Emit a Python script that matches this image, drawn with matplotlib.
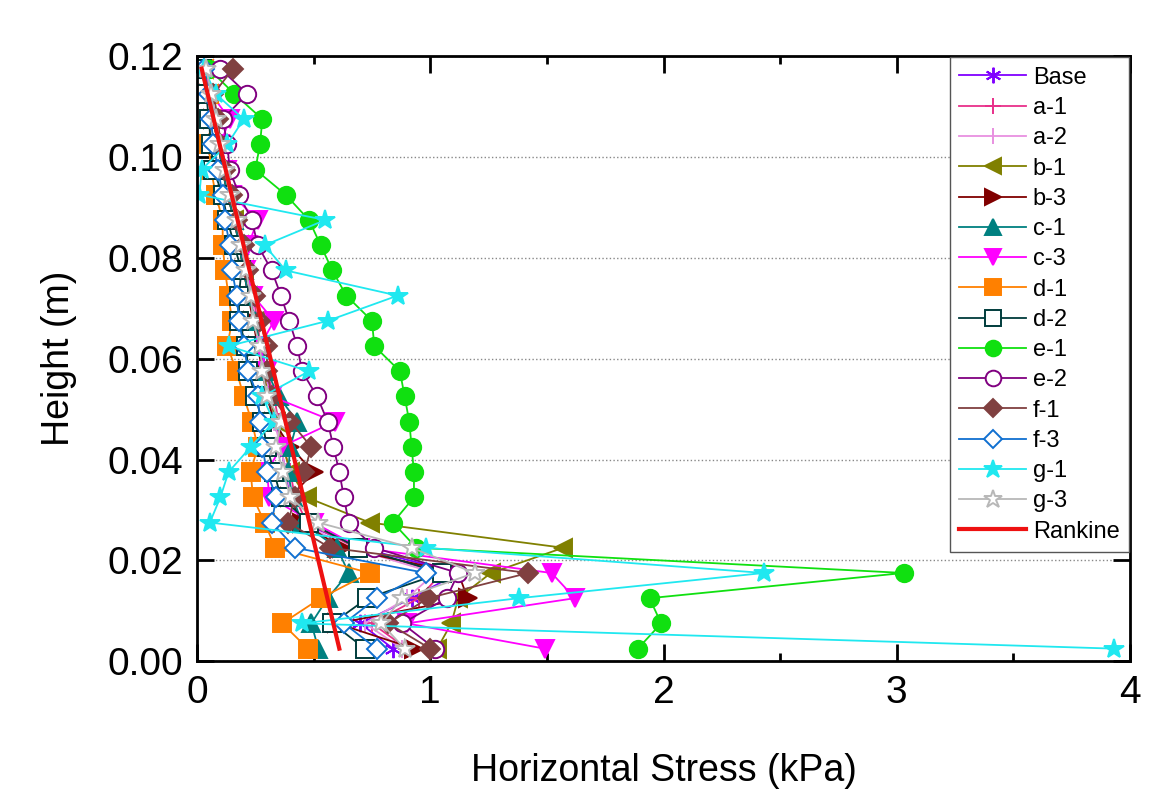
import matplotlib.pyplot as plt
import numpy as np
from matplotlib.ticker import MultipleLocator

plt.rcParams['font.family'] = ['Liberation Sans', 'DejaVu Sans']

# heights (m), bottom to top
height = [0.0025, 0.0075, 0.0125, 0.0175, 0.0225, 0.0275, 0.0325, 0.0375,
          0.0425, 0.0475, 0.0525, 0.0575, 0.0625, 0.0675, 0.0725, 0.0775,
          0.0825, 0.0875, 0.0925, 0.0975, 0.1025, 0.1075, 0.1125, 0.1175]

# horizontal stress (kPa) for each case
base = [0.84, 0.70, 0.92, 1.12, 0.70, 0.45, 0.40, 0.38, 0.36, 0.34, 0.31, 0.29,
        0.27, 0.25, 0.23, 0.21, 0.19, 0.17, 0.14, 0.12, 0.10, 0.08, 0.06, 0.03]
a1 = [0.90, 0.75, 0.95, 1.05, 0.68, 0.47, 0.42, 0.40, 0.37, 0.35, 0.33, 0.30,
      0.27, 0.26, 0.24, 0.21, 0.19, 0.17, 0.15, 0.12, 0.10, 0.08, 0.05, 0.03]
a2 = [0.88, 0.72, 0.90, 1.02, 0.66, 0.44, 0.41, 0.38, 0.36, 0.33, 0.31, 0.29,
      0.26, 0.25, 0.23, 0.20, 0.18, 0.16, 0.14, 0.11, 0.09, 0.07, 0.05, 0.02]
b1 = [1.03, 1.09, 1.12, 1.26, 1.57, 0.74, 0.47, 0.40, 0.37, 0.34, 0.31, 0.28,
      0.27, 0.25, 0.22, 0.20, 0.18, 0.16, 0.13, 0.11, 0.09, 0.07, 0.05, 0.03]
b3 = [0.93, 0.60, 1.16, 1.12, 0.62, 0.45, 0.40, 0.50, 0.40, 0.33, 0.30, 0.28,
      0.26, 0.24, 0.22, 0.20, 0.18, 0.16, 0.13, 0.11, 0.09, 0.07, 0.05, 0.03]
c1 = [0.52, 0.49, 0.56, 0.65, 0.60, 0.45, 0.41, 0.39, 0.40, 0.43, 0.35, 0.30,
      0.27, 0.25, 0.22, 0.20, 0.18, 0.16, 0.13, 0.11, 0.09, 0.07, 0.05, 0.02]
c3 = [1.49, 0.90, 1.62, 1.52, 0.70, 0.50, 0.31, 0.30, 0.36, 0.59, 0.32, 0.30,
      0.27, 0.33, 0.24, 0.21, 0.22, 0.26, 0.15, 0.13, 0.10, 0.14, 0.06, 0.03]
d1 = [0.475, 0.365, 0.53, 0.74, 0.335, 0.29, 0.24, 0.23, 0.26, 0.235, 0.20, 0.17,
      0.13, 0.15, 0.135, 0.12, 0.11, 0.11, 0.08, 0.06, 0.05, 0.06, 0.05, 0.03]
d2 = [0.72, 0.58, 0.73, 1.05, 0.69, 0.48, 0.36, 0.33, 0.30, 0.28, 0.25, 0.22,
      0.21, 0.18, 0.18, 0.19, 0.16, 0.13, 0.11, 0.07, 0.06, 0.05, 0.04, 0.02]
e1 = [1.89, 1.99, 1.94, 3.03, 0.94, 0.84, 0.93, 0.93, 0.92, 0.91, 0.89, 0.87,
      0.76, 0.75, 0.64, 0.58, 0.53, 0.48, 0.38, 0.25, 0.27, 0.28, 0.16, 0.05]
e2 = [1.02, 0.88, 1.07, 1.12, 0.76, 0.65, 0.63, 0.61, 0.585, 0.56, 0.515, 0.45,
      0.43, 0.395, 0.36, 0.32, 0.26, 0.235, 0.18, 0.14, 0.13, 0.11, 0.215, 0.10]
f1 = [1.00, 0.82, 0.99, 1.42, 0.57, 0.39, 0.42, 0.46, 0.49, 0.40, 0.32, 0.30,
      0.30, 0.27, 0.25, 0.22, 0.20, 0.17, 0.15, 0.12, 0.10, 0.09, 0.07, 0.155]
f3 = [0.77, 0.63, 0.77, 0.98, 0.42, 0.32, 0.34, 0.30, 0.28, 0.27, 0.26, 0.22,
      0.20, 0.18, 0.17, 0.15, 0.14, 0.12, 0.11, 0.09, 0.07, 0.06, 0.05, 0.03]
g1 = [3.93, 0.45, 1.38, 2.43, 0.98, 0.055, 0.10, 0.135, 0.23, 0.33, 0.28, 0.48,
      0.135, 0.56, 0.86, 0.38, 0.29, 0.55, 0.01, 0.02, 0.13, 0.20, 0.08, 0.03]
g3 = [0.89, 0.79, 0.88, 1.19, 0.92, 0.52, 0.40, 0.37, 0.34, 0.36, 0.30, 0.28,
      0.27, 0.24, 0.23, 0.21, 0.19, 0.17, 0.14, 0.12, 0.10, 0.08, 0.06, 0.04]

# Rankine line
rankine_h = [0.0025, 0.1175]
rankine_s = [0.61, 0.02]

series = [
    ("Base", base, '#8000ff', (6, 2, 0), True),
    ("a-1", a1, '#e8308a', '+', True),
    ("a-2", a2, '#e890e0', '|', True),
    ("b-1", b1, '#808000', '<', True),
    ("b-3", b3, '#800000', '>', True),
    ("c-1", c1, '#008080', '^', True),
    ("c-3", c3, '#ff00ff', 'v', True),
    ("d-1", d1, '#ff8000', 's', True),
    ("d-2", d2, '#003c3c', 's', False),
    ("e-1", e1, '#10e010', 'o', True),
    ("e-2", e2, '#800080', 'o', False),
    ("f-1", f1, '#804040', 'D', True),
    ("f-3", f3, '#1070d0', 'D', False),
    ("g-1", g1, '#20e8f0', '*', True),
    ("g-3", g3, '#b8b8b8', '*', False),
]

fig = plt.figure(figsize=(11.59, 7.90), dpi=100)
ax = fig.add_axes([0.170, 0.163, 0.805, 0.766])

for name, vals, col, mk, filled in series:
    size = 12.5
    if mk == 'D':
        size = 10
    if mk == '*':
        size = 15
    ax.plot(vals, height, color=col, lw=1.3, marker=mk, markersize=size,
            markerfacecolor=col if filled else 'white',
            markeredgecolor=col, markeredgewidth=1.4, label=name)

ax.plot(rankine_s, rankine_h, color='#ee1111', lw=3, label="Rankine")

ax.set_xlim(0, 4)
ax.set_ylim(0, 0.12)
ax.xaxis.set_major_locator(MultipleLocator(1))
ax.xaxis.set_minor_locator(MultipleLocator(0.5))
ax.yaxis.set_major_locator(MultipleLocator(0.02))
ax.yaxis.set_major_formatter(plt.FormatStrFormatter('%.2f'))
ax.tick_params(which='both', direction='in', top=True, right=True,
               labelsize=28, width=2, pad=10)
ax.tick_params(which='major', length=12)
ax.tick_params(which='minor', length=6)
ax.grid(axis='y', linestyle=':', color='#888888', lw=1)
for s in ax.spines.values():
    s.set_linewidth(2)

ax.set_xlabel("Horizontal Stress (kPa)", fontsize=27, labelpad=30)
ax.set_ylabel("Height (m)", fontsize=27, labelpad=22)

leg = ax.legend(loc='upper right', fontsize=17, handlelength=2.8,
                labelspacing=0.35, borderaxespad=0.05, handletextpad=0.3,
                fancybox=False, framealpha=1, edgecolor='#555555',
                borderpad=0.4, markerscale=0.9)
leg.get_frame().set_linewidth(1)

plt.savefig("out.png", dpi=100)
